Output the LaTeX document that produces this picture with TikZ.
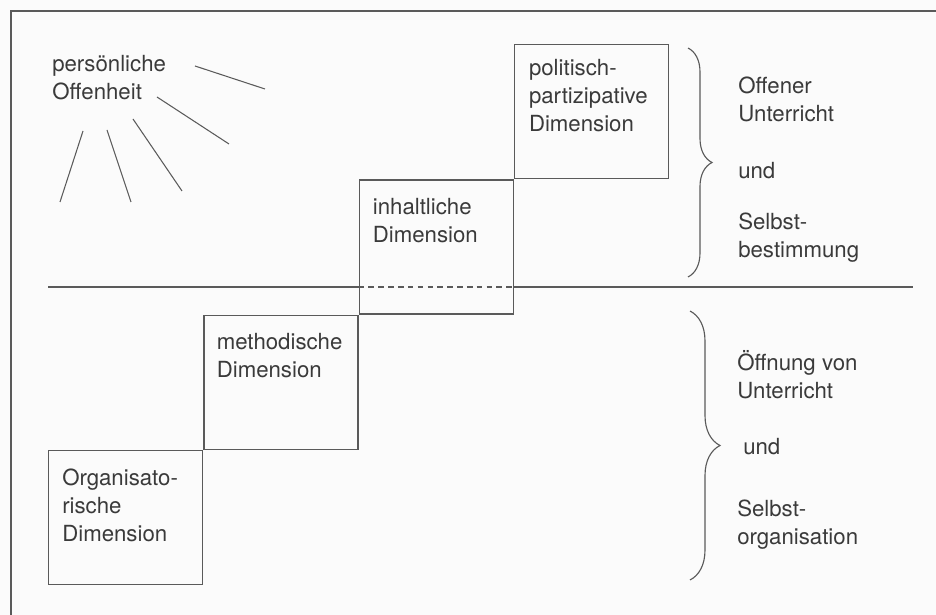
\documentclass[tikz,border=0pt]{standalone}
\usepackage{fontspec}
\setmainfont{TeX Gyre Heros}
\usepackage{tikz}
\usetikzlibrary{positioning,decorations.pathreplacing}
\definecolor{ink}{HTML}{3A3A3A}
\definecolor{rule}{HTML}{5A5A5A}
\definecolor{paper}{HTML}{FBFBFB}

\begin{document}
\begin{tikzpicture}[x=0.025cm,y=-0.025cm,every node/.style={inner sep=0pt,align=left,text=ink,font=\fontsize{15.8}{19.9}\selectfont},box/.style={draw=rule,line width=0.9pt,minimum width=3.85cm,minimum height=3.35cm,anchor=south west},txt/.style={anchor=north west},line/.style={draw=rule,line width=0.9pt},ray/.style={draw=rule,line width=0.75pt},brace/.style={draw=rule,line width=0.8pt,decorate}]
\fill[paper] (0,0) rectangle (936,615); \useasboundingbox (0,0) rectangle (936,615);
\draw[line] (936,11) -- (11,11) -- (11,615);
\node (orga) [box,anchor=north west] at (48,450) {};
\node (method) [box] at (orga.north east) {};
\node (inhalt) [box] at (method.north east) {};
\node (polit) [box] at (inhalt.north east) {};
\node (orgatxt) [txt,below right=0.47cm and 0.35cm of orga.north west] {Organisato-\\rische\\Dimension};
\node (methodtxt) [txt,below right=0.47cm and 0.33cm of method.north west] {methodische\\Dimension};
\node (inhalttxt) [txt,below right=0.47cm and 0.35cm of inhalt.north west] {inhaltliche\\Dimension};
\node (polittxt) [txt,below right=0.37cm and 0.37cm of polit.north west] {politisch-\\partizipative\\Dimension};
\coordinate (sepl) at (48,287); \coordinate (sepr) at (913,287);
\draw[line] (sepl) -- (sepl -| inhalt.west); \draw[line,dash pattern=on 4pt off 3pt] (sepl -| inhalt.west) -- (sepl -| inhalt.east);
\draw[line] (sepl -| inhalt.east) -- (sepr);
\node (offen) [txt] at (52,55) {persönliche\\Offenheit};
\draw[ray] (195,66) -- (265,89); \draw[ray] (157,97) -- (229,144);
\draw[ray] (133,119) -- (182,191); \draw[ray] (107,130) -- (131,202);
\draw[ray] (83,131) -- (60,202);
\draw[brace,decoration={brace,amplitude=0.6cm}] (688,48) -- (688,277);
\draw[brace,decoration={brace,amplitude=0.75cm}] (690,311) -- (690,580);
\node (offener) [txt] at (738,77) {Offener\\Unterricht};
\node (und1) [txt] at (738,162) {und};
\node (bestimm) [txt] at (738,213) {Selbst-\\bestimmung};
\node (oeffnung) [txt] at (737,350) {Öffnung von\\Unterricht};
\node (und2) [txt] at (743,438) {und};
\node (organis) [txt] at (737,500) {Selbst-\\organisation};
\end{tikzpicture}
\end{document}
